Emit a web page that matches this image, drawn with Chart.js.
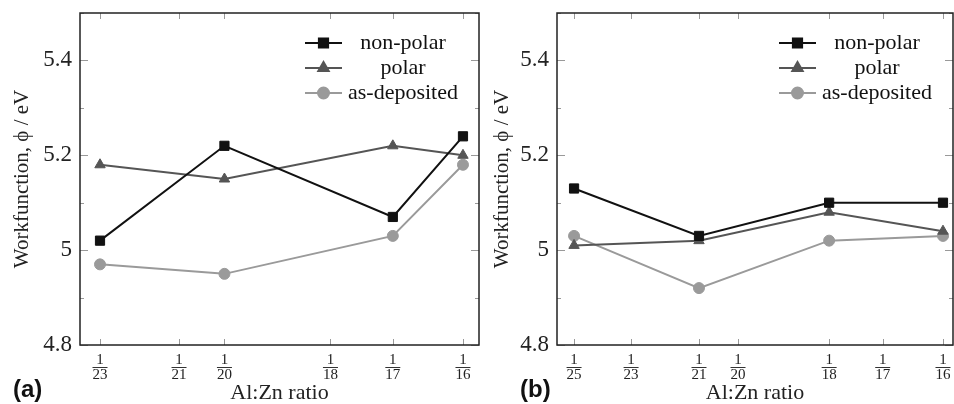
<!DOCTYPE html>
<html>
<head>
<meta charset="utf-8">
<script src="https://cdn.jsdelivr.net/npm/chart.js@4.4.0/dist/chart.umd.min.js"></script>
<style>
  html, body { margin: 0; padding: 0; background: #fff; }
  #wrap { position: relative; width: 954px; height: 404px; }
  canvas { position: absolute; top: 0; }
</style>
</head>
<body>
<div id="wrap">
  <canvas id="chartA" width="480" height="404" style="left:0"></canvas>
  <canvas id="chartB" width="474" height="404" style="left:480px"></canvas>
</div>
<script>
// Al:Zn ratio is plotted as 1/n, n = denominator
const ticksA = [23, 21, 20, 18, 17, 16];
const pointsA = [23, 20, 17, 16];
const nonPolarA = [5.02, 5.22, 5.07, 5.24];
const polarA = [5.18, 5.15, 5.22, 5.20];
const asDepA = [4.97, 4.95, 5.03, 5.18];

const ticksB = [25, 23, 21, 20, 18, 17, 16];
const pointsB = [25, 21, 18, 16];
const nonPolarB = [5.13, 5.03, 5.10, 5.10];
const polarB = [5.01, 5.02, 5.08, 5.04];
const asDepB = [5.03, 4.92, 5.02, 5.03];

const seriesNames = ['non-polar', 'polar', 'as-deposited'];

const SERIF = "'Liberation Serif', 'DejaVu Serif', serif";
const styles = [
  { color: '#111', pointStyle: 'rect', radius: 6.5 },
  { color: '#555', pointStyle: 'triangle', radius: 6 },
  { color: '#9a9a9a', pointStyle: 'circle', radius: 5.5 },
];

function isMajor(v) {
  const k = v * 5;
  return Math.abs(k - Math.round(k)) < 1e-6;
}

// frame, inward ticks, fraction bars, legend and panel letter
const framePlugin = {
  id: 'frame',
  afterDraw(chart, _args, opts) {
    const { ctx, chartArea: a, scales: { x, y } } = chart;
    ctx.save();

    ctx.strokeStyle = '#999';
    ctx.lineWidth = 1;
    ctx.beginPath();
    y.ticks.forEach((t) => {
      const py = Math.round(y.getPixelForValue(t.value)) + 0.5;
      const len = isMajor(t.value) ? 8 : 4;
      ctx.moveTo(a.left, py); ctx.lineTo(a.left + len, py);
      ctx.moveTo(a.right, py); ctx.lineTo(a.right - len, py);
    });
    x.ticks.forEach((t) => {
      const px = Math.round(x.getPixelForValue(t.value)) + 0.5;
      ctx.moveTo(px, a.top); ctx.lineTo(px, a.top + 6);
      ctx.moveTo(px, a.bottom); ctx.lineTo(px, a.bottom - 6);
    });
    ctx.stroke();

    ctx.strokeStyle = '#222';
    ctx.lineWidth = 1.5;
    ctx.strokeRect(a.left, a.top, a.right - a.left, a.bottom - a.top);

    // fraction bars under the numerators
    ctx.strokeStyle = '#333';
    ctx.lineWidth = 1;
    ctx.beginPath();
    x.ticks.forEach((t) => {
      const px = x.getPixelForValue(t.value);
      ctx.moveTo(px - 7.5, a.bottom + 22.5);
      ctx.lineTo(px + 7.5, a.bottom + 22.5);
    });
    ctx.stroke();

    // legend
    chart.data.datasets.forEach((ds, i) => {
      const st = styles[i];
      const ly = a.top + 30 + 25 * i;
      const x0 = a.right - 174, x1 = a.right - 137;
      ctx.strokeStyle = st.color;
      ctx.fillStyle = st.color;
      ctx.lineWidth = 2;
      ctx.beginPath();
      ctx.moveTo(x0, ly); ctx.lineTo(x1, ly);
      ctx.stroke();
      Chart.helpers.drawPoint(ctx, {
        pointStyle: st.pointStyle, radius: st.radius, rotation: 0, borderWidth: 1,
      }, (x0 + x1) / 2, ly);
      ctx.fillStyle = '#111';
      ctx.font = '22px ' + SERIF;
      ctx.textAlign = 'center';
      ctx.textBaseline = 'middle';
      ctx.fillText(ds.label, a.right - 76, ly);
    });

    ctx.fillStyle = '#111';
    ctx.font = "bold 24px 'Liberation Sans', Arial, sans-serif";
    ctx.textAlign = 'left';
    ctx.textBaseline = 'middle';
    ctx.fillText(opts.letter, opts.letterX, 390);
    ctx.restore();
  },
};

function toPoints(ns, vals) {
  return ns.map((n, i) => ({ x: 1 / n, y: vals[i] }));
}

function makePanel(id, cfg) {
  const values = [cfg.nonPolar, cfg.polar, cfg.asDep];
  return new Chart(document.getElementById(id), {
    type: 'line',
    data: {
      datasets: values.map((vals, i) => ({
        label: seriesNames[i],
        data: toPoints(cfg.points, vals),
        borderColor: styles[i].color,
        backgroundColor: styles[i].color,
        pointStyle: styles[i].pointStyle,
        pointRadius: styles[i].radius,
        pointBorderWidth: 1,
        borderWidth: 2,
        tension: 0,
      })),
    },
    options: {
      responsive: false,
      animation: false,
      layout: { autoPadding: false, padding: { top: 13, right: 1, left: 0, bottom: 0 } },
      plugins: {
        legend: { display: false },
        tooltip: { enabled: false },
        frame: { letter: cfg.letter, letterX: cfg.letterX },
      },
      scales: {
        x: {
          type: 'linear',
          min: cfg.xMin,
          max: cfg.xMax,
          grid: { display: false, drawTicks: false },
          border: { display: false },
          afterBuildTicks(scale) {
            scale.ticks = cfg.ticks.map((n) => ({ value: 1 / n }));
          },
          afterFit(scale) {
            scale.height = 59;
            scale.paddingLeft = 0;
            scale.paddingRight = 0;
          },
          ticks: {
            autoSkip: false,
            maxRotation: 0,
            padding: 7.5,
            color: '#222',
            font: { family: SERIF, size: 15, lineHeight: 1 },
            callback(v) { return ['1', String(Math.round(1 / v))]; },
          },
          title: {
            display: true,
            text: 'Al:Zn ratio',
            color: '#222',
            font: { family: SERIF, size: 22 },
            padding: { top: 0, bottom: -2 },
          },
        },
        y: {
          min: 4.8,
          max: 5.5,
          grid: { display: false, drawTicks: false },
          border: { display: false },
          afterFit(scale) {
            scale.width = cfg.yWidth;
            scale.paddingTop = 0;
            scale.paddingBottom = 0;
          },
          ticks: {
            stepSize: 0.05,
            padding: 8,
            color: '#222',
            font: { family: SERIF, size: 23 },
            callback(v) { return isMajor(v) ? String(Math.round(v * 10) / 10) : ''; },
          },
          title: {
            display: true,
            text: 'Workfunction, ϕ / eV',
            color: '#222',
            font: { family: SERIF, size: 21 },
            padding: { top: 10, bottom: 0 },
          },
        },
      },
    },
    plugins: [framePlugin],
  });
}

makePanel('chartA', {
  ticks: ticksA, points: pointsA,
  nonPolar: nonPolarA, polar: polarA, asDep: asDepA,
  xMin: 0.04243, xMax: 0.06334, yWidth: 80,
  letter: '(a)', letterX: 13,
});

makePanel('chartB', {
  ticks: ticksB, points: pointsB,
  nonPolar: nonPolarB, polar: polarB, asDep: asDepB,
  xMin: 0.03896, xMax: 0.06311, yWidth: 77,
  letter: '(b)', letterX: 40,
});
</script>
</body>
</html>
